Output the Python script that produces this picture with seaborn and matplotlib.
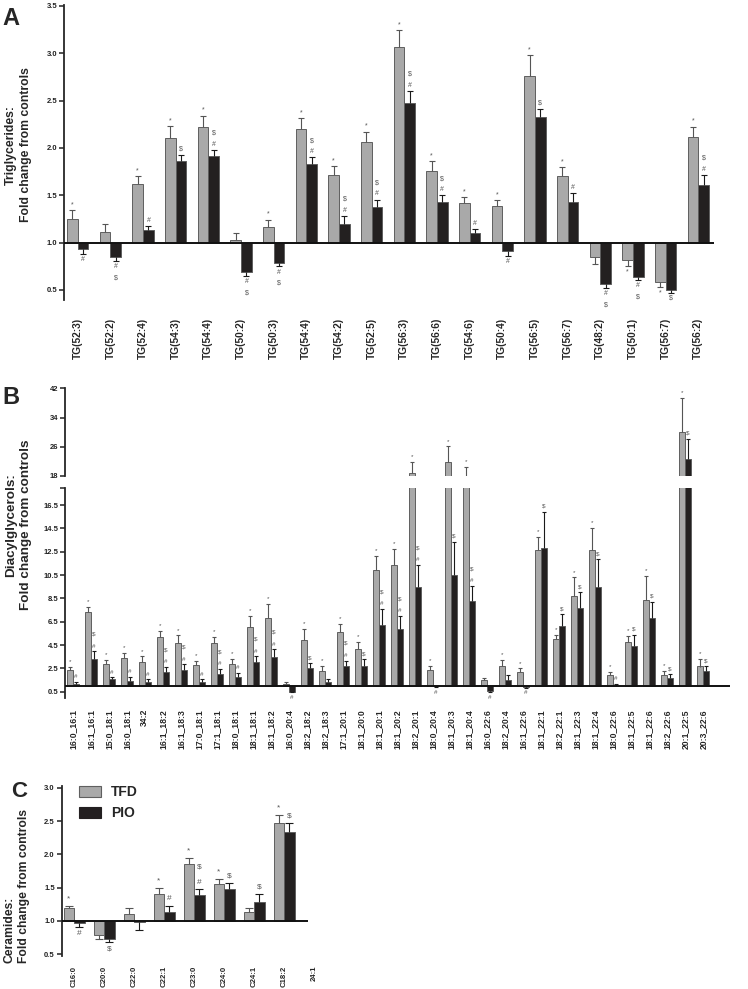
import numpy as np
import pandas as pd
import matplotlib
matplotlib.use("Agg")
import matplotlib.pyplot as plt
from matplotlib.patches import Patch
import seaborn as sns

sns.set_style("ticks")
plt.rcParams["font.family"] = ["Liberation Sans", "DejaVu Sans"]
plt.rcParams["font.weight"] = "bold"

GRAY = "#a9a9a9"
BLACK = "#231f20"
EDGE = "#5f5f5f"

# ---- A: triglycerides
tg_labels = ["TG(52:3)", "TG(52:2)", "TG(52:4)", "TG(54:3)", "TG(54:4)", "TG(50:2)",
             "TG(50:3)", "TG(54:4)", "TG(54:2)", "TG(52:5)", "TG(56:3)", "TG(56:6)",
             "TG(54:6)", "TG(50:4)", "TG(56:5)", "TG(56:7)", "TG(48:2)", "TG(50:1)",
             "TG(56:7)", "TG(56:2)"]
tg_tfd = [1.25, 1.11, 1.62, 2.10, 2.22, 1.03, 1.17, 2.20, 1.71, 2.06,
          3.07, 1.76, 1.42, 1.39, 2.76, 1.70, 0.85, 0.82, 0.58, 2.12]
tg_tfd_sem = [0.09, 0.085, 0.08, 0.13, 0.12, 0.075, 0.07, 0.115, 0.095, 0.11,
              0.175, 0.10, 0.06, 0.06, 0.22, 0.095, 0.08, 0.07, 0.05, 0.105]
tg_pio = [0.93, 0.85, 1.13, 1.86, 1.91, 0.69, 0.79, 1.83, 1.20, 1.38,
          2.48, 1.43, 1.10, 0.915, 2.33, 1.43, 0.56, 0.64, 0.50, 1.61]
tg_pio_sem = [0.045, 0.043, 0.05, 0.07, 0.07, 0.042, 0.042, 0.07, 0.08, 0.075,
              0.125, 0.07, 0.042, 0.055, 0.085, 0.09, 0.042, 0.035, 0.028, 0.105]
tg_tfd_sig = ["*", "", "*", "*", "*", "", "*", "*", "*", "*",
              "*", "*", "*", "*", "*", "*", "", "*", "*", "*"]
tg_pio_sig = ["#", "#$", "#", "$", "#$", "#$", "#$", "#$", "#$", "#$",
              "#$", "#$", "#", "#", "$", "#", "#$", "#$", "$", "#$"]
tg_yticks = [0.5, 1.0, 1.5, 2.0, 2.5, 3.0, 3.5]

# ---- B: diacylglycerols
dg_labels = ["16:0_16:1", "16:1_16:1", "15:0_18:1", "16:0_18:1", "34:2", "16:1_18:2",
             "16:1_18:3", "17:0_18:1", "17:1_18:1", "18:0_18:1", "18:1_18:1", "18:1_18:2",
             "16:0_20:4", "18:2_18:2", "18:2_18:3", "17:1_20:1", "18:1_20:0", "18:1_20:1",
             "18:1_20:2", "18:2_20:1", "18:0_20:4", "18:1_20:3", "18:1_20:4", "16:0_22:6",
             "18:2_20:4", "16:1_22:6", "18:1_22:1", "18:2_22:1", "18:1_22:3", "18:1_22:4",
             "18:0_22:6", "18:1_22:5", "18:1_22:6", "18:2_22:6", "20:1_22:5", "20:3_22:6"]
dg_tfd = [2.36, 7.30, 2.87, 3.39, 3.04, 5.19, 4.70, 2.79, 4.67, 2.87, 6.04, 6.84,
          1.20, 4.89, 2.31, 5.63, 4.14, 10.94, 11.34, 18.8, 2.37, 21.8, 18.1, 1.51,
          2.71, 2.20, 12.66, 5.00, 8.71, 12.63, 1.89, 4.80, 8.37, 1.91, 30.05, 2.66]
dg_tfd_sem = [0.23, 0.49, 0.34, 0.40, 0.49, 0.51, 0.63, 0.34, 0.54, 0.43, 0.97, 1.15,
              0.14, 0.97, 0.38, 0.66, 0.60, 1.23, 1.37, 3.1, 0.34, 4.3, 2.3, 0.18,
              0.52, 0.29, 1.14, 0.34, 1.58, 1.88, 0.34, 0.49, 2.06, 0.35, 9.35, 0.65]
dg_pio = [1.13, 3.30, 1.56, 1.44, 1.30, 2.19, 2.36, 1.36, 2.04, 1.79, 3.01, 3.47,
          0.50, 2.49, 1.37, 2.74, 2.74, 6.23, 5.86, 9.49, 0.97, 10.49, 8.26, 0.57,
          1.54, 0.92, 12.80, 6.14, 7.66, 9.51, 1.02, 4.43, 6.80, 1.69, 22.6, 2.31]
dg_pio_sem = [0.23, 0.66, 0.17, 0.35, 0.26, 0.42, 0.48, 0.20, 0.43, 0.31, 0.52, 0.66,
              0.06, 0.45, 0.26, 0.43, 0.55, 1.34, 1.14, 1.85, 0.08, 2.88, 1.31, 0.11,
              0.35, 0.06, 3.14, 1.00, 1.37, 2.38, 0.18, 0.97, 1.43, 0.31, 5.6, 0.38]
dg_tfd_sig = ["*"] * 12 + [""] + ["*"] * 10 + [""] + ["*"] * 12
dg_pio_sig = ["#", "#$", "#", "#", "#", "#$", "#$", "#", "#$", "#", "#$", "#$",
              "#", "$", "", "#$", "$", "#$", "#$", "#$", "#", "$", "#$", "#",
              "", "#", "$", "$", "$", "$", "#", "$", "$", "$", "$", "$"]
dg_yticks_low = [0.5, 2.5, 4.5, 6.5, 8.5, 10.5, 12.5, 14.5, 16.5]
dg_yticks_high = [18, 26, 34, 42]

# ---- C: ceramides
cer_labels = ["C16:0", "C20:0", "C22:0", "C22:1", "C23:0", "C24:0", "C24:1", "C18:2", "24:1"]
cer_tfd = [1.19, 0.79, 1.10, 1.405, 1.855, 1.55, 1.135, 2.47]
cer_tfd_sem = [0.04, 0.06, 0.10, 0.095, 0.085, 0.075, 0.055, 0.12]
cer_pio = [0.975, 0.73, 0.985, 1.13, 1.385, 1.475, 1.29, 2.335]
cer_pio_sem = [0.06, 0.05, 0.12, 0.10, 0.095, 0.10, 0.12, 0.135]
cer_tfd_sig = ["*", "", "", "*", "*", "*", "", "*"]
cer_pio_sig = ["#", "$", "", "#", "#$", "$", "$", "$"]
cer_yticks = [0.5, 1.0, 1.5, 2.0, 2.5, 3.0]


def bar_panel(ax, n_cats, tfd, tfd_sem, pio, pio_sem, tfd_sig, pio_sig,
              width, capsize, sig_size, sig_gap, sig_step):
    n = len(tfd)
    df = pd.DataFrame({
        "pos": list(range(n)) * 2,
        "group": ["TFD"] * n + ["PIO"] * n,
        "fold": tfd + pio,
        "sem": tfd_sem + pio_sem,
        "sig": tfd_sig + pio_sig,
    })
    # bars hang from the 1.0 line (no change from controls)
    df["rise"] = df["fold"] - 1.0
    sns.barplot(data=df, x="pos", y="rise", hue="group", order=list(range(n_cats)),
                hue_order=["TFD", "PIO"], palette={"TFD": GRAY, "PIO": BLACK},
                width=width, bottom=1.0, errorbar=None, edgecolor=EDGE,
                linewidth=0.7, legend=False, ax=ax)
    conts = list(ax.containers)
    for cont, grp, ecol in zip(conts, ["TFD", "PIO"], ["#555555", "#1a1a1a"]):
        sub = df[df["group"] == grp]
        xs = np.array([b.get_x() + b.get_width() / 2 for b in cont])
        f = sub["fold"].values
        s = sub["sem"].values
        up = f >= 1
        # one-sided error bars, pointing away from the 1.0 line
        for mask, down in [(up, False), (~up, True)]:
            if not mask.any():
                continue
            z = np.zeros(mask.sum())
            yerr = [s[mask], z] if down else [z, s[mask]]
            eb = ax.errorbar(xs[mask], f[mask], yerr=yerr, fmt="none", ecolor=ecol,
                             elinewidth=0.8, capsize=capsize, capthick=0.8, zorder=3)
            eb[1][1 if down else 0].remove()
        for x, fv, sv, sig in zip(xs, f, s, sub["sig"]):
            d = 1 if fv >= 1 else -1
            for k, ch in enumerate(sig):
                ax.annotate(ch, (x, fv + d * sv), xytext=(0, d * (sig_gap + k * sig_step)),
                            textcoords="offset points", ha="center",
                            va="bottom" if d > 0 else "top",
                            fontsize=sig_size, color="#555555", fontweight="normal")


def style_axis(ax, yticks, ylim, xlim, fmt="{:.1f}"):
    ax.set_ylim(*ylim)
    ax.set_xlim(*xlim)
    ax.set_yticks(yticks)
    ax.set_yticklabels([fmt.format(t) for t in yticks], fontsize=5.5, fontweight="bold")
    sns.despine(ax=ax, bottom=True)
    ax.spines["left"].set_linewidth(1.3)
    ax.tick_params(axis="y", length=3.5, width=1.1, pad=1.5, colors="#222222")
    ax.tick_params(axis="x", length=0)
    ax.set_xlabel("")
    ax.set_ylabel("")


W, H = 748, 989
fig = plt.figure(figsize=(W / 100, H / 100), dpi=100)


def px_axes(x0, y0, x1, y1):
    return fig.add_axes([x0 / W, 1 - y1 / H, (x1 - x0) / W, (y1 - y0) / H])


# A
axA = px_axes(64, 5, 714, 300)
bar_panel(axA, len(tg_labels), tg_tfd, tg_tfd_sem, tg_pio, tg_pio_sem, tg_tfd_sig, tg_pio_sig,
          width=0.66, capsize=2.5, sig_size=5, sig_gap=1.5, sig_step=8)
style_axis(axA, tg_yticks, (0.394, 3.51), (-0.42, 19.48))
axA.axhline(1.0, color="#111111", lw=1.4, zorder=4)
axA.set_xticks(range(len(tg_labels)))
axA.set_xticklabels(tg_labels, rotation=90, fontsize=7.3, fontweight="bold")
axA.tick_params(axis="x", pad=13)

# B (broken axis)
axBt = px_axes(65, 388, 730, 476)
axB = px_axes(65, 488, 730, 698)
for ax in (axBt, axB):
    bar_panel(ax, len(dg_labels), dg_tfd, dg_tfd_sem, dg_pio, dg_pio_sem, dg_tfd_sig, dg_pio_sig,
              width=0.667, capsize=1.5, sig_size=4.5, sig_gap=2, sig_step=8.5)
style_axis(axBt, dg_yticks_high, (18, 42.1), (-0.43, 36.5), fmt="{:d}")
axBt.set_xticks([])
style_axis(axB, dg_yticks_low, (-0.04, 17.96), (-0.43, 36.5))
axB.set_yticks([17.96], minor=True)
axB.tick_params(axis="y", which="minor", length=3.5, width=1.1)
axB.axhline(1.0, color="#111111", lw=1.4, zorder=4)
axB.set_xticks(range(len(dg_labels)))
axB.set_xticklabels(dg_labels, rotation=90, fontsize=6.2, fontweight="bold")
axB.tick_params(axis="x", pad=8)

# C
axC = px_axes(61.7, 786, 326, 956)
bar_panel(axC, len(cer_labels), cer_tfd, cer_tfd_sem, cer_pio, cer_pio_sem, cer_tfd_sig, cer_pio_sig,
          width=0.7, capsize=3, sig_size=6, sig_gap=2.5, sig_step=11)
style_axis(axC, cer_yticks, (0.474, 3.026), (-0.41, 8.4))
axC.hlines(1.0, -0.41, 7.8, color="#111111", lw=1.4, zorder=4)
axC.set_xticks(range(len(cer_labels)))
axC.set_xticklabels(cer_labels, rotation=90, fontsize=5.6, fontweight="bold")
axC.tick_params(axis="x", pad=7)
axC.legend(handles=[Patch(facecolor=GRAY, edgecolor=EDGE, lw=0.8, label="TFD"),
                    Patch(facecolor=BLACK, edgecolor=BLACK, lw=0.8, label="PIO")],
           loc="upper left", bbox_to_anchor=(0.055, 1.02), frameon=False, borderaxespad=0,
           borderpad=0.2, handlelength=1.6, handleheight=0.8, handletextpad=0.7,
           labelspacing=0.5, prop={"size": 10, "weight": "bold"})

# axis titles and panel letters
fig.text(18.5 / W, 1 - 145 / H, "Triglycerides:\nFold change from controls", rotation=90,
         ha="center", va="center", multialignment="center", fontsize=8.8,
         fontweight="bold", linespacing=1.35)
fig.text(18.5 / W, 1 - 525 / H, "Diacylglycerols:\nFold change from controls", rotation=90,
         ha="center", va="center", multialignment="center", fontsize=9.7,
         fontweight="bold", linespacing=1.25)
fig.text(16.5 / W, 1 - 963 / H, "Ceramides:\nFold change from controls", rotation=90,
         ha="center", va="bottom", multialignment="left", fontsize=8.7,
         fontweight="bold", linespacing=1.3)
for letter, x, y, fs in [("A", 2, 7, 17), ("B", 2, 386, 17), ("C", 11, 781, 16)]:
    fig.text(x / W, 1 - y / H, letter, ha="left", va="top", fontsize=fs, fontweight="bold")

fig.savefig("out.png", dpi=100)
